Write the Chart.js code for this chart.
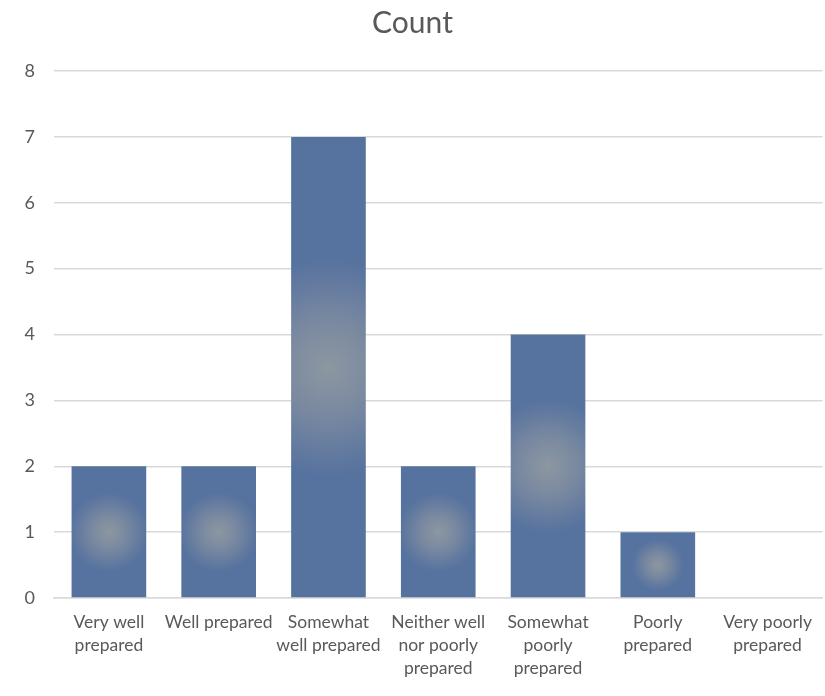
<!DOCTYPE html>
<html>
<head>
<meta charset="utf-8">
<script src="https://cdn.jsdelivr.net/npm/chart.js@4/dist/chart.umd.min.js"></script>
<style>
  html, body { margin: 0; padding: 0; background: #fff; }
  #wrap { width: 825px; height: 696px; }
</style>
</head>
<body>
<div id="wrap"><canvas id="countChart" width="825" height="696"></canvas></div>
<script>
// data
const categories = [
  ['Very well', 'prepared'],
  ['Well prepared'],
  ['Somewhat', 'well prepared'],
  ['Neither well', 'nor poorly', 'prepared'],
  ['Somewhat', 'poorly', 'prepared'],
  ['Poorly', 'prepared'],
  ['Very poorly', 'prepared'],
];
const counts = [2, 2, 7, 2, 4, 1, 0];
const yTicks = [0, 1, 2, 3, 4, 5, 6, 7, 8];

const barColor = '#56729f';
const glowColor = '#8d97a1';
const textColor = '#595959';
const gridColor = '#d9d9d9';

// excel-like "from center" fill, sized from the bar the scales give us
function barFill(ctx) {
  const chart = ctx.chart;
  if (!chart.chartArea || ctx.dataIndex === undefined) return barColor;
  const xs = chart.scales.x;
  const ys = chart.scales.y;
  const v = counts[ctx.dataIndex];
  const cx = xs.getPixelForValue(ctx.dataIndex);
  const top = ys.getPixelForValue(v);
  const base = ys.getPixelForValue(0);
  const h = base - top;
  if (h <= 0) return barColor;
  const cy = top + h / 2;
  const r = h * 0.21 + 12;
  const g = chart.ctx.createRadialGradient(cx, cy, 0, cx, cy, r);
  g.addColorStop(0, glowColor);
  g.addColorStop(0.4, '#7b8aa0');
  g.addColorStop(1, barColor);
  return g;
}

const context = document.getElementById('countChart').getContext('2d');
new Chart(context, {
  type: 'bar',
  data: {
    labels: categories,
    datasets: [
      {
        label: 'Count',
        data: counts,
        backgroundColor: barFill,
        borderWidth: 0,
        barPercentage: 0.68,
        categoryPercentage: 1,
      },
    ],
  },
  options: {
    responsive: false,
    animation: false,
    layout: { padding: { left: 0, right: 0, top: 0, bottom: 0 } },
    plugins: {
      legend: { display: false },
      tooltip: { enabled: false },
      title: {
        display: true,
        text: 'Count',
        color: textColor,
        font: { family: 'Lato', size: 30, weight: 'normal' },
        padding: { top: 5, bottom: 30 },
      },
    },
    scales: {
      y: {
        min: 0,
        max: 8,
        afterBuildTicks: (scale) => {
          scale.ticks = yTicks.map((v) => ({ value: v }));
        },
        afterFit: (scale) => {
          scale.width = 54;
        },
        grid: { color: gridColor, lineWidth: 1.5, drawTicks: false },
        border: { display: false },
        ticks: {
          color: textColor,
          font: { family: 'Lato', size: 18 },
          padding: 19,
        },
      },
      x: {
        afterFit: (scale) => {
          scale.height = 98;
        },
        grid: { display: false, drawTicks: false },
        border: { display: true, color: gridColor, width: 1.5 },
        ticks: {
          color: textColor,
          font: { family: 'Lato', size: 17.5, lineHeight: 1.32 },
          padding: 13,
          maxRotation: 0,
          autoSkip: false,
        },
      },
    },
  },
});
</script>
</body>
</html>
